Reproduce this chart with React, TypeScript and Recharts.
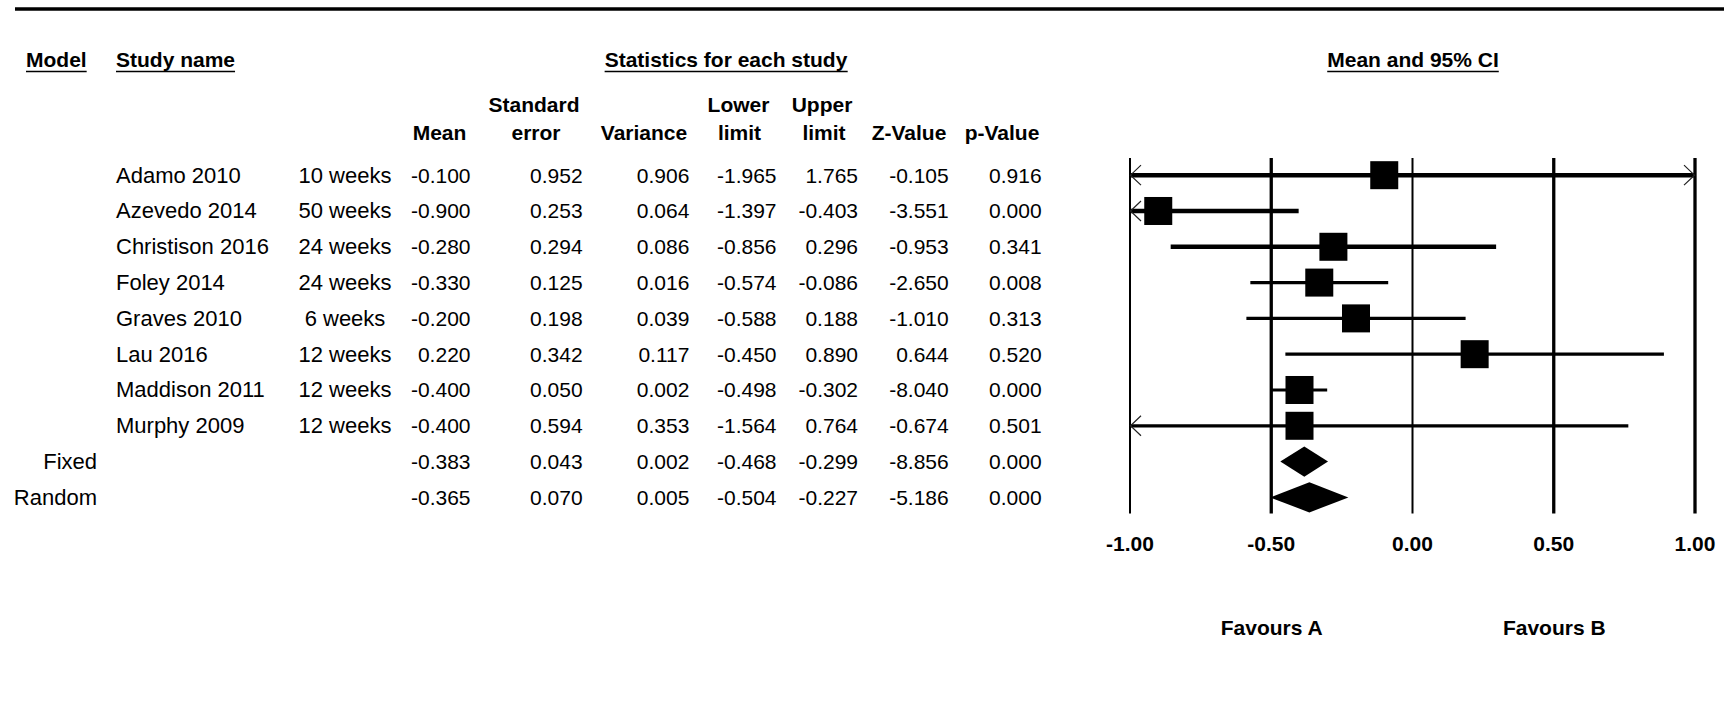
import React, { useLayoutEffect, useRef, useState } from 'react';
import { ComposedChart, XAxis, YAxis, Scatter, ReferenceLine, ReferenceArea } from 'recharts';

// ---------- data ----------
const studyNames = ['Adamo 2010', 'Azevedo 2014', 'Christison 2016', 'Foley 2014', 'Graves 2010', 'Lau 2016', 'Maddison 2011', 'Murphy 2009'];
const durations = ['10 weeks', '50 weeks', '24 weeks', '24 weeks', '6 weeks', '12 weeks', '12 weeks', '12 weeks'];
const modelNames = ['Fixed', 'Random'];
const means = [-0.1, -0.9, -0.28, -0.33, -0.2, 0.22, -0.4, -0.4, -0.383, -0.365];
const stdErrors = [0.952, 0.253, 0.294, 0.125, 0.198, 0.342, 0.05, 0.594, 0.043, 0.07];
const variances = [0.906, 0.064, 0.086, 0.016, 0.039, 0.117, 0.002, 0.353, 0.002, 0.005];
const lowerLimits = [-1.965, -1.397, -0.856, -0.574, -0.588, -0.45, -0.498, -1.564, -0.468, -0.504];
const upperLimits = [1.765, -0.403, 0.296, -0.086, 0.188, 0.89, -0.302, 0.764, -0.299, -0.227];
const zValues = [-0.105, -3.551, -0.953, -2.65, -1.01, 0.644, -8.04, -0.674, -8.856, -5.186];
const pValues = [0.916, 0.0, 0.341, 0.008, 0.313, 0.52, 0.0, 0.501, 0.0, 0.0];
const xTicks = [-1, -0.5, 0, 0.5, 1];
const favourLabels = ['Favours A', 'Favours B'];
const favourPositions = [-0.5, 0.5];

// ---------- layout / style ----------
const FONT = '"Liberation Sans", Arial, Helvetica, sans-serif';
const FS = 21;
const FS_LABEL = 22;
const X_MIN = -1;
const X_MAX = 1;
const ROW_COUNT = studyNames.length + modelNames.length;
const rowIndices = Array.from({ length: ROW_COUNT }, (_, i) => i);

const valueColumns: { values: number[]; right: number }[] = [
  { values: means, right: 470.5 },
  { values: stdErrors, right: 582.6 },
  { values: variances, right: 689.4 },
  { values: lowerLimits, right: 776.5 },
  { values: upperLimits, right: 858 },
  { values: zValues, right: 948.7 },
  { values: pValues, right: 1041.6 },
];

const squareData = studyNames.map((_, i) => ({ x: means[i], y: i }));

const gridWidth = (v: number) => (v === -1 || v === 0 ? 2 : 3.3);
const ciWidth = (i: number) => (i < 3 ? 4.6 : 3.2);

const RowTick = (props: any) => {
  const { y, payload } = props;
  const i = payload.value as number;
  const by = y + 7.5;
  const common = { fontFamily: FONT, fontSize: FS, fill: '#000' } as const;
  const label = { fontFamily: FONT, fontSize: FS_LABEL, fill: '#000' } as const;
  return (
    <g>
      {i < studyNames.length ? (
        <>
          <text {...label} x={116} y={by}>{studyNames[i]}</text>
          <text {...label} x={345} y={by} textAnchor="middle">{durations[i]}</text>
        </>
      ) : (
        <text {...label} x={97} y={by} textAnchor="end">{modelNames[i - studyNames.length]}</text>
      )}
      {valueColumns.map((c, k) => (
        <text key={k} {...common} x={c.right} y={by} textAnchor="end">{c.values[i].toFixed(3)}</text>
      ))}
    </g>
  );
};

const AxisTick = (props: any) => {
  const { x, y, payload } = props;
  return (
    <text x={x} y={y + 37} textAnchor="middle" fontFamily={FONT} fontSize={FS} fontWeight="bold" fill="#000">
      {Number(payload.value).toFixed(2)}
    </text>
  );
};

const SquareShape = (props: any) => {
  const { cx, cy } = props;
  return <rect x={cx - 14} y={cy - 14} width={28} height={28} fill="#000" />;
};

const makeCiShape = (arrowLeft: boolean, arrowRight: boolean, w: number) => (p: any) => {
  const { x1, y1, x2, y2 } = p;
  return (
    <g>
      <line x1={x1} y1={y1} x2={x2} y2={y2} stroke="#000" strokeWidth={w} />
      {arrowLeft && (
        <polyline points={`${x1 + 11},${y1 - 10} ${x1 + 0.5},${y1} ${x1 + 11},${y1 + 10}`} fill="none" stroke="#222" strokeWidth={1.2} />
      )}
      {arrowRight && (
        <polyline points={`${x2 - 11},${y2 - 10} ${x2 - 0.5},${y2} ${x2 - 11},${y2 + 10}`} fill="none" stroke="#222" strokeWidth={1.2} />
      )}
    </g>
  );
};

const makeDiamondShape = (lo: number, mean: number, hi: number) => (p: any) => {
  const left = Math.min(p.x, p.x + p.width);
  const w = Math.abs(p.width);
  const top = Math.min(p.y, p.y + p.height);
  const h = Math.abs(p.height);
  const apex = left + (w * (mean - lo)) / (hi - lo);
  const cy = top + h / 2;
  return <polygon points={`${left},${cy} ${apex},${top} ${left + w},${cy} ${apex},${top + h}`} fill="#000" />;
};

function UText({ x, y, anchor, children }: { x: number; y: number; anchor: 'start' | 'middle' | 'end'; children: string }) {
  const ref = useRef<SVGTextElement>(null);
  const [bb, setBb] = useState<{ x: number; w: number } | null>(null);
  useLayoutEffect(() => {
    if (ref.current) {
      const b = ref.current.getBBox();
      setBb({ x: b.x, w: b.width });
    }
  }, []);
  return (
    <g>
      <text ref={ref} x={x} y={y} textAnchor={anchor} fontFamily={FONT} fontSize={FS} fontWeight="bold" fill="#000">
        {children}
      </text>
      {bb && <line x1={bb.x} x2={bb.x + bb.w} y1={y + 5} y2={y + 5} stroke="#000" strokeWidth={1.6} />}
    </g>
  );
}

const headerLine1: { t: string; x: number }[] = [
  { t: 'Standard', x: 534 },
  { t: 'Lower', x: 738.5 },
  { t: 'Upper', x: 822 },
];
const headerLine2: { t: string; x: number }[] = [
  { t: 'Mean', x: 439.5 },
  { t: 'error', x: 536 },
  { t: 'Variance', x: 644 },
  { t: 'limit', x: 739.5 },
  { t: 'limit', x: 824 },
  { t: 'Z-Value', x: 909 },
  { t: 'p-Value', x: 1002 },
];

export default function App() {
  const nStudies = studyNames.length;
  return (
    <div style={{ position: 'absolute', left: 0, top: 0, width: 1724, height: 719, background: '#fff' }}>
      <ComposedChart width={1724} height={719} margin={{ top: 158, right: 29, bottom: 145.5, left: 0 }}>
        <XAxis
          type="number"
          dataKey="x"
          domain={[X_MIN, X_MAX]}
          ticks={xTicks}
          interval={0}
          allowDataOverflow
          axisLine={false}
          tickLine={false}
          tickSize={0}
          tickMargin={0}
          height={60}
          tick={<AxisTick />}
        />
        <YAxis
          type="number"
          dataKey="y"
          domain={[-0.48, 9.45]}
          reversed
          allowDataOverflow
          ticks={rowIndices}
          interval={0}
          width={1130}
          axisLine={false}
          tickLine={false}
          tickSize={0}
          tickMargin={0}
          tick={<RowTick />}
        />
        {xTicks.map((v) => (
          <ReferenceLine key={`g${v}`} x={v} stroke="#000" strokeWidth={gridWidth(v)} ifOverflow="visible" />
        ))}
        {studyNames.map((_, i) => {
          const lo = Math.max(lowerLimits[i], X_MIN);
          const hi = Math.min(upperLimits[i], X_MAX);
          return (
            <ReferenceLine
              key={`ci${i}`}
              segment={[{ x: lo, y: i }, { x: hi, y: i }]}
              ifOverflow="visible"
              stroke="#000"
              shape={makeCiShape(lowerLimits[i] < X_MIN, upperLimits[i] > X_MAX, ciWidth(i))}
            />
          );
        })}
        {modelNames.map((_, k) => {
          const i = nStudies + k;
          return (
            <ReferenceArea
              key={`d${k}`}
              x1={lowerLimits[i]}
              x2={upperLimits[i]}
              y1={i - 0.42}
              y2={i + 0.42}
              ifOverflow="visible"
              shape={makeDiamondShape(lowerLimits[i], means[i], upperLimits[i])}
            />
          );
        })}
        <Scatter data={squareData} dataKey="y" isAnimationActive={false} shape={<SquareShape />} />
      </ComposedChart>
      <svg width={1724} height={719} style={{ position: 'absolute', left: 0, top: 0, pointerEvents: 'none' }}>
        <line x1={15} x2={1724} y1={9} y2={9} stroke="#000" strokeWidth={3.5} />
        <UText x={26} y={66.5} anchor="start">Model</UText>
        <UText x={116} y={66.5} anchor="start">Study name</UText>
        <UText x={726} y={66.5} anchor="middle">Statistics for each study</UText>
        <UText x={1413} y={66.5} anchor="middle">Mean and 95% CI</UText>
        {headerLine1.map((h, k) => (
          <text key={`h1${k}`} x={h.x} y={111.5} textAnchor="middle" fontFamily={FONT} fontSize={FS} fontWeight="bold" fill="#000">{h.t}</text>
        ))}
        {headerLine2.map((h, k) => (
          <text key={`h2${k}`} x={h.x} y={140} textAnchor="middle" fontFamily={FONT} fontSize={FS} fontWeight="bold" fill="#000">{h.t}</text>
        ))}
        {favourLabels.map((t, k) => (
          <text key={`f${k}`} x={1413 + favourPositions[k] * 282.5} y={635} textAnchor="middle" fontFamily={FONT} fontSize={FS} fontWeight="bold" fill="#000">{t}</text>
        ))}
      </svg>
    </div>
  );
}
